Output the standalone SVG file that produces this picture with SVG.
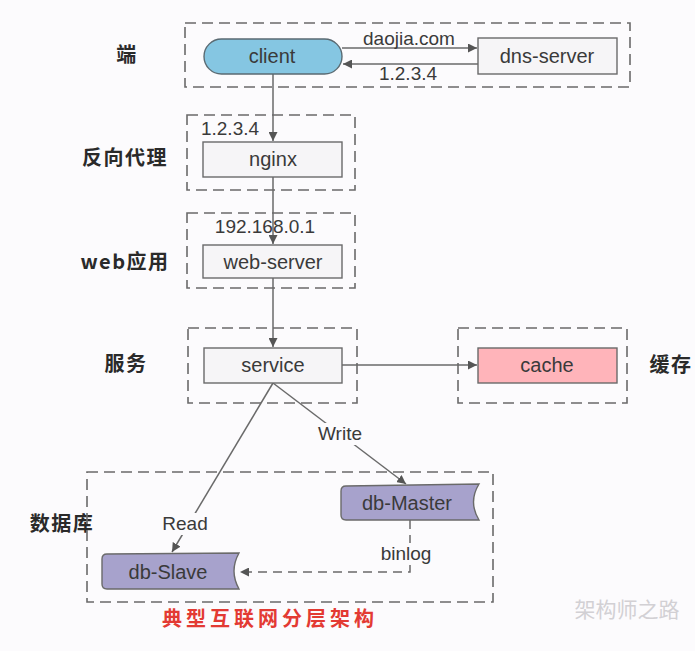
<svg xmlns="http://www.w3.org/2000/svg" width="695" height="651" viewBox="0 0 695 651">
<style>
.grp{fill:none;stroke:#6a6a6a;stroke-width:1.6;stroke-dasharray:11 6}
.box{fill:#f6f5f7;stroke:#6a6a6a;stroke-width:1.4}
.t{font-family:"Liberation Sans",Arial,sans-serif;font-size:20px;fill:#3a3a3a;text-anchor:middle}
.lbl{font-family:"Liberation Sans",Arial,sans-serif;font-size:19px;fill:#3a3a3a;text-anchor:middle}
.side{font-family:"Noto Sans CJK SC","Liberation Sans",sans-serif;font-size:20px;font-weight:bold;fill:#2a2a2a;text-anchor:middle;letter-spacing:1.5px}
.ln{fill:none;stroke:#6a6a6a;stroke-width:1.5}
.db{fill:#a7a2cc;stroke:#6a6a6a;stroke-width:1.4}
.bg{fill:#fcfbfd}
</style>
<defs>
<marker id="ah" viewBox="0 0 10 10" refX="10" refY="5" markerWidth="9" markerHeight="9" markerUnits="userSpaceOnUse" orient="auto">
<path d="M0,0 L10,5 L0,10 Z" fill="#555"/>
</marker>
</defs>
<rect width="695" height="651" fill="#fcfbfd"/>

<g id="side-labels">
<text class="side" x="127" y="62">端</text>
<text class="side" x="125" y="165">反向代理</text>
<text class="side" x="125" y="269">web应用</text>
<text class="side" x="126" y="371">服务</text>
<text class="side" x="62" y="531">数据库</text>
<text class="side" x="671" y="372">缓存</text>
</g>

<g id="groups">
<rect class="grp" x="185" y="23" width="445" height="64"/>
<rect class="grp" x="187" y="115" width="168" height="75"/>
<rect class="grp" x="187" y="213" width="168" height="75"/>
<rect class="grp" x="188" y="328" width="169" height="75"/>
<rect class="grp" x="458" y="328" width="169" height="75"/>
<rect class="grp" x="87" y="472" width="406" height="130"/>
</g>

<g id="connectors">
<line class="ln" x1="342" y1="48" x2="477" y2="48" marker-end="url(#ah)"/>
<line class="ln" x1="478" y1="64" x2="343" y2="64" marker-end="url(#ah)"/>
<line class="ln" x1="273" y1="74" x2="273" y2="141" marker-end="url(#ah)"/>
<line class="ln" x1="273" y1="177" x2="273" y2="244" marker-end="url(#ah)"/>
<line class="ln" x1="273" y1="278" x2="273" y2="347" marker-end="url(#ah)"/>
<line class="ln" x1="342" y1="365" x2="477" y2="365" marker-end="url(#ah)"/>
<line class="ln" x1="273" y1="383" x2="172" y2="552" marker-end="url(#ah)"/>
<line class="ln" x1="273" y1="383" x2="406" y2="484" marker-end="url(#ah)"/>
<path class="ln" d="M410,520 V572 H240" stroke-dasharray="9 6" marker-end="url(#ah)"/>
<rect class="bg" x="372" y="65" width="72" height="18"/>
<text class="lbl" x="408" y="80">1.2.3.4</text>
<text class="lbl" x="409" y="45">daojia.com</text>
<text class="lbl" x="230" y="135">1.2.3.4</text>
<text class="lbl" x="265" y="233">192.168.0.1</text>
<rect class="bg" x="309" y="423" width="62" height="22"/>
<text class="lbl" x="340" y="440">Write</text>
<rect class="bg" x="155" y="513" width="58" height="22"/>
<text class="lbl" x="185" y="530">Read</text>
<rect class="bg" x="374" y="543" width="64" height="22"/>
<text class="lbl" x="406" y="560">binlog</text>
</g>

<g id="client">
<rect x="204" y="39" width="138" height="35" rx="17.5" fill="#85c6e2" stroke="#5a6a72" stroke-width="1.4"/>
<text class="t" x="272" y="63" fill="#1f3a4a">client</text>
</g>
<g id="dns-server">
<rect class="box" x="478" y="38" width="139" height="36"/>
<text class="t" x="547" y="63">dns-server</text>
</g>
<g id="nginx">
<rect class="box" x="203" y="142" width="139" height="35"/>
<text class="t" x="273" y="166">nginx</text>
</g>
<g id="web-server">
<rect class="box" x="203" y="245" width="139" height="33"/>
<text class="t" x="273" y="269">web-server</text>
</g>
<g id="service">
<rect class="box" x="204" y="348" width="138" height="35"/>
<text class="t" x="273" y="372">service</text>
</g>
<g id="cache">
<rect x="478" y="348" width="139" height="35" fill="#ffb4ba" stroke="#6a6a6a" stroke-width="1.4"/>
<text class="t" x="547" y="372" fill="#4a2a2e">cache</text>
</g>
<g id="db-Master">
<path class="db" d="M346,486 L479,484 Q468,502 479,520 L346,520 Q341,520 341,515 L341,491 Q341,486 346,486 Z"/>
<text class="t" x="407" y="510" fill="#2a2a4a">db-Master</text>
</g>
<g id="db-Slave">
<path class="db" d="M107,554 L239,553 Q229,571 239,589 L107,589 Q102,589 102,584 L102,559 Q102,554 107,554 Z"/>
<text class="t" x="168" y="579" fill="#2a2a4a">db-Slave</text>
</g>

<g id="title">
<text x="270" y="626" text-anchor="middle" font-family="'Noto Sans CJK SC',sans-serif" font-size="20" font-weight="bold" fill="#e33a33" letter-spacing="4">典型互联网分层架构</text>
</g>
<g id="watermark">
<text x="627" y="617" text-anchor="middle" font-family="'Noto Sans CJK SC',sans-serif" font-size="21" fill="#d2d0d4">架构师之路</text>
</g>
</svg>
